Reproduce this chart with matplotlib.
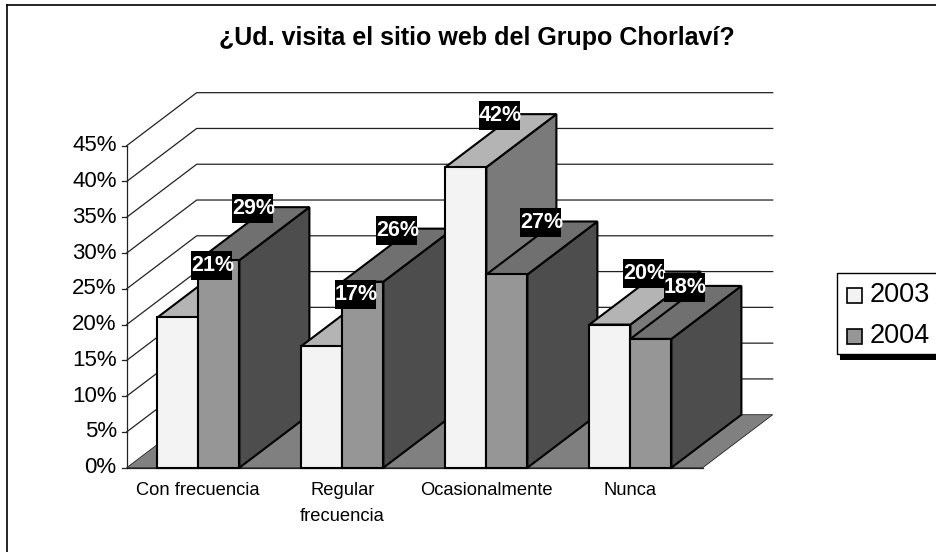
import matplotlib
matplotlib.use('Agg')
import matplotlib.pyplot as plt
from matplotlib.patches import Polygon, Rectangle

plt.rcParams['font.family'] = ['Liberation Sans', 'DejaVu Sans']

# Data
title = '¿Ud. visita el sitio web del Grupo Chorlaví?'
categories = ['Con frecuencia', 'Regular\nfrecuencia', 'Ocasionalmente', 'Nunca']
years = ['2003', '2004']
values_2003 = [21, 17, 42, 20]
values_2004 = [29, 26, 27, 18]
y_ticks = [0, 5, 10, 15, 20, 25, 30, 35, 40, 45]

# Oblique projection, in screen pixels
X0, Y0 = 126.7, 467.7      # front left corner of the floor
PX_PER_CAT = 144.0
PX_PER_PCT = 7.156
DEPTH_X, DEPTH_Y = 70.0, 53.0
BAR_W = 41.0
GAP = 30.7

# (front, top, side) greys per series
shades = [('#f3f3f3', '#b4b4b4', '#7a7a7a'), ('#969696', '#707070', '#4d4d4d')]


def project(cat, val, depth=0.0):
    """cat in pixels from the axis, val in percent, depth 0 front .. 1 back"""
    return X0 + cat + depth * DEPTH_X, Y0 - val * PX_PER_PCT - depth * DEPTH_Y


def draw_bar(ax, left, val, colors, z):
    right = left + BAR_W
    lw = 1.5
    front = [project(left, 0), project(right, 0), project(right, val), project(left, val)]
    top = [project(left, val), project(right, val), project(right, val, 1), project(left, val, 1)]
    side = [project(right, 0), project(right, 0, 1), project(right, val, 1), project(right, val)]
    for pts, c in zip((side, top, front), (colors[2], colors[1], colors[0])):
        ax.add_patch(Polygon(pts, closed=True, facecolor=c, edgecolor='black', linewidth=lw, zorder=z))


fig = plt.figure(figsize=(9.36, 5.52), dpi=100)
ax = fig.add_axes([0, 0, 1, 1])
ax.set_xlim(0, 936)
ax.set_ylim(552, 0)
ax.axis('off')

# Outer frame, runs off the right and bottom edges
ax.plot([6.5, 6.5], [560, 5], color='black', linewidth=1.2, zorder=0)
ax.plot([6.5, 940], [5, 5], color='black', linewidth=1.2, zorder=0)

cat_span = PX_PER_CAT * len(categories)

# Floor
ax.add_patch(Polygon([project(0, 0), project(cat_span, 0), project(cat_span, 0, 1), project(0, 0, 1)],
                     closed=True, facecolor='#808080', edgecolor='#222222', linewidth=0.6, zorder=1))

# Wall gridlines and axis
for t in y_ticks:
    xa, ya = project(0, t)
    xb, yb = project(0, t, 1)
    xc, yc = project(cat_span, t, 1)
    if t > 0:
        ax.plot([xa, xb, xc], [ya, yb, yc], color='#222222', linewidth=0.9, zorder=2)
    ax.plot([xa - 5, xa], [ya, ya], color='#222222', linewidth=0.9, zorder=2)
    ax.text(xa - 10, ya, f'{t}%', ha='right', va='center', fontsize=16, zorder=6)
ax.plot(*zip(project(0, 0), project(0, y_ticks[-1])), color='#222222', linewidth=0.9, zorder=2)
ax.plot(*zip(project(0, 0), project(cat_span, 0)), color='#222222', linewidth=0.9, zorder=2)

# Bars, left to right so later bars overlap earlier ones
for i, (v3, v4) in enumerate(zip(values_2003, values_2004)):
    left = i * PX_PER_CAT + GAP
    draw_bar(ax, left, v3, shades[0], 3 + 2 * i)
    draw_bar(ax, left + BAR_W, v4, shades[1], 3 + 2 * i + 1)

# Data labels, white on black, above the middle of each bar top
for i, (v3, v4) in enumerate(zip(values_2003, values_2004)):
    left = i * PX_PER_CAT + GAP
    for j, v in enumerate((v3, v4)):
        lx, ly = project(left + j * BAR_W + BAR_W / 2, v, 0.5)
        lx -= 1
        ly -= 25
        ax.add_patch(Rectangle((lx - 20.5, ly - 14.5), 41, 29, facecolor='black', edgecolor='none', zorder=20 + 2 * j))
        ax.text(lx + 0.5, ly, f'{v}%', color='white', fontsize=15.5, fontweight='bold', ha='center', va='center',
                zorder=21 + 2 * j)

# Category labels
for i, c in enumerate(categories):
    ax.text(X0 + (i + 0.5) * PX_PER_CAT - 0.5, 482, c, ha='center', va='top', fontsize=13.2, linespacing=1.72, zorder=6)

ax.text(477, 38, title, ha='center', va='center', fontsize=18, fontweight='bold')

# Legend with hard shadow, drawn by hand because it runs off the right edge
ax.add_patch(Rectangle((840, 277), 110, 83, facecolor='black', edgecolor='none', zorder=7))
ax.add_patch(Rectangle((836.7, 272.7), 110, 81.3, facecolor='white', edgecolor='black', linewidth=1.0, zorder=8))
for k, (yr, yy) in enumerate(zip(years, (295, 336))):
    ax.add_patch(Rectangle((846.5, yy - 7.5), 15, 15, facecolor=shades[k][0], edgecolor='black', linewidth=1.2, zorder=9))
    ax.text(870, yy, yr, ha='left', va='center', fontsize=19.5, zorder=9)

fig.savefig('out.png', dpi=100)
